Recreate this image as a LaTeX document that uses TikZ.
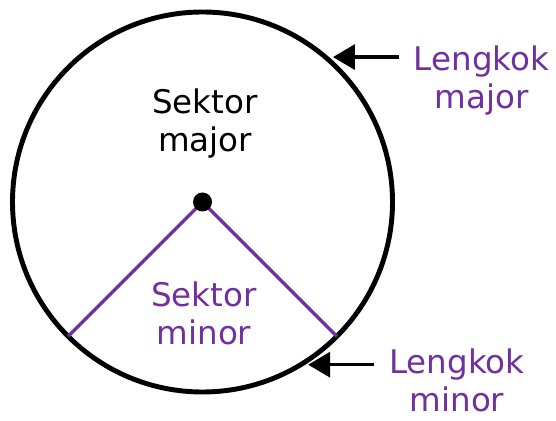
\documentclass[tikz,border=0pt]{standalone}
\usepackage{fontspec}
\setmainfont{DejaVu Sans}
\usetikzlibrary{arrows.meta}
\definecolor{ungu}{RGB}{112,48,160}

\begin{document}
\begin{tikzpicture}[>={Triangle[length=0.44cm,width=0.5cm]},
    lbl/.style={inner sep=0pt, align=center, font=\fontsize{18.5}{21.6}\selectfont},
    arr/.style={->, line width=2pt}]
  \useasboundingbox (0,0) rectangle (11.12,8.4);
  \coordinate (O) at (4.05,4.36);
  \draw[line width=2.8pt] (O) circle (3.8);
  \path (O) ++(225:3.8) coordinate (A) (O) ++(-45:3.8) coordinate (B);
  \draw[ungu, line width=2pt] (A) -- (O) -- (B);
  \fill (O) circle (0.19);
  \node[lbl] (smaj) at (4.10,5.91) {\strut Sektor\\\strut major};
  \node[lbl, text=ungu] (smin) at (4.08,2.05) {\strut Sektor\\\strut minor};
  \node[lbl, text=ungu] (lmaj) at (9.63,6.77) {\strut Lengkok\\\strut major};
  \node[lbl, text=ungu] (lmin) at (9.14,0.71) {\strut Lengkok\\\strut minor};
  \path (O) ++(48:3.9) coordinate (tmaj) (O) ++(-57:3.88) coordinate (tmin);
  \draw[arr] ([xshift=-0.3cm]lmaj.west |- tmaj) -- (tmaj);
  \draw[arr] ([xshift=-0.3cm]lmin.west |- tmin) -- (tmin);
\end{tikzpicture}
\end{document}
